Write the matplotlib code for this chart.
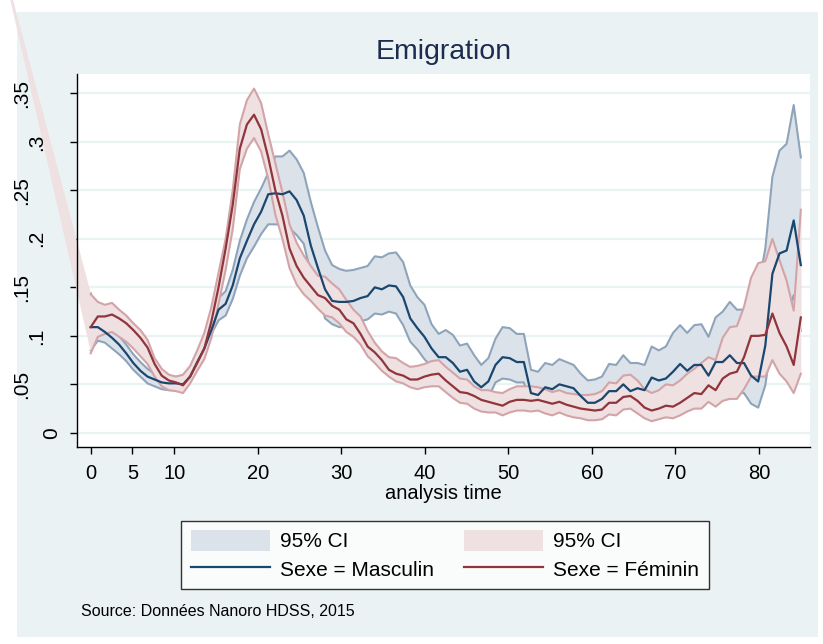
import numpy as np
import matplotlib
matplotlib.use('Agg')
import matplotlib.pyplot as plt
from matplotlib.patches import Rectangle, Patch
from matplotlib.lines import Line2D
import matplotlib.transforms as mtransforms

plt.rcParams['font.family'] = ['Liberation Sans', 'DejaVu Sans']

# smoothed hazard, evaluated on a grid of 101 points from 0 to 85
t = np.linspace(0, 85, 101)

masc = [0.109, 0.109, 0.104, 0.098, 0.091, 0.082, 0.072, 0.064, 0.058, 0.055,
        0.052, 0.051, 0.051, 0.050, 0.058, 0.073, 0.087, 0.106, 0.127, 0.133,
        0.152, 0.180, 0.198, 0.215, 0.228, 0.246, 0.247, 0.246, 0.249, 0.240,
        0.224, 0.193, 0.170, 0.148, 0.136, 0.135, 0.135, 0.136, 0.139, 0.141,
        0.150, 0.148, 0.152, 0.151, 0.140, 0.118, 0.108, 0.099, 0.087, 0.078,
        0.078, 0.072, 0.063, 0.065, 0.053, 0.047, 0.053, 0.070, 0.078, 0.077,
        0.073, 0.073, 0.041, 0.039, 0.047, 0.045, 0.050, 0.048, 0.046, 0.038,
        0.031, 0.031, 0.035, 0.043, 0.043, 0.050, 0.043, 0.046, 0.044, 0.057,
        0.054, 0.056, 0.063, 0.071, 0.064, 0.070, 0.070, 0.059, 0.073, 0.073,
        0.080, 0.072, 0.072, 0.059, 0.053, 0.090, 0.164, 0.185, 0.188, 0.219, 0.173]
masc_hi = [0.144, 0.115, 0.113, 0.107, 0.100, 0.091, 0.081, 0.073, 0.066, 0.061,
           0.058, 0.058, 0.058, 0.058, 0.066, 0.079, 0.090, 0.110, 0.139, 0.146,
           0.168, 0.198, 0.220, 0.238, 0.252, 0.268, 0.285, 0.285, 0.291, 0.282,
           0.268, 0.238, 0.212, 0.188, 0.173, 0.169, 0.167, 0.168, 0.170, 0.172,
           0.182, 0.181, 0.185, 0.186, 0.176, 0.152, 0.140, 0.132, 0.112, 0.102,
           0.106, 0.101, 0.090, 0.092, 0.080, 0.070, 0.077, 0.097, 0.109, 0.108,
           0.102, 0.102, 0.065, 0.063, 0.072, 0.070, 0.076, 0.073, 0.070, 0.061,
           0.054, 0.055, 0.058, 0.071, 0.070, 0.080, 0.072, 0.072, 0.070, 0.089,
           0.085, 0.089, 0.103, 0.111, 0.103, 0.111, 0.112, 0.099, 0.119, 0.125,
           0.135, 0.127, 0.127, 0.125, 0.150, 0.190, 0.264, 0.291, 0.298, 0.338, 0.284]
masc_lo = [0.085, 0.095, 0.093, 0.087, 0.081, 0.074, 0.065, 0.058, 0.051, 0.048,
           0.045, 0.044, 0.044, 0.045, 0.054, 0.068, 0.085, 0.102, 0.116, 0.121,
           0.138, 0.162, 0.180, 0.192, 0.205, 0.215, 0.215, 0.214, 0.211, 0.204,
           0.195, 0.165, 0.145, 0.118, 0.112, 0.109, 0.109, 0.112, 0.115, 0.117,
           0.123, 0.122, 0.125, 0.123, 0.111, 0.094, 0.086, 0.076, 0.068, 0.060,
           0.057, 0.051, 0.044, 0.046, 0.035, 0.032, 0.036, 0.052, 0.056, 0.055,
           0.052, 0.052, 0.026, 0.024, 0.031, 0.029, 0.033, 0.032, 0.030, 0.024,
           0.018, 0.017, 0.021, 0.026, 0.026, 0.031, 0.026, 0.029, 0.028, 0.037,
           0.034, 0.035, 0.039, 0.045, 0.040, 0.044, 0.044, 0.035, 0.045, 0.043,
           0.047, 0.041, 0.041, 0.030, 0.026, 0.049, 0.100, 0.118, 0.119, 0.142, 0.105]

fem = [0.109, 0.120, 0.120, 0.122, 0.118, 0.113, 0.106, 0.098, 0.088, 0.071,
       0.059, 0.054, 0.052, 0.049, 0.058, 0.072, 0.087, 0.115, 0.150, 0.190,
       0.235, 0.293, 0.318, 0.328, 0.313, 0.284, 0.250, 0.224, 0.190, 0.172,
       0.160, 0.151, 0.142, 0.139, 0.131, 0.127, 0.117, 0.113, 0.102, 0.089,
       0.083, 0.075, 0.065, 0.061, 0.059, 0.055, 0.055, 0.058, 0.060, 0.061,
       0.054, 0.048, 0.042, 0.041, 0.038, 0.034, 0.032, 0.030, 0.028, 0.032,
       0.034, 0.034, 0.033, 0.034, 0.032, 0.030, 0.032, 0.029, 0.027, 0.025,
       0.024, 0.023, 0.024, 0.031, 0.031, 0.037, 0.038, 0.033, 0.026, 0.023,
       0.025, 0.028, 0.027, 0.031, 0.036, 0.041, 0.040, 0.049, 0.044, 0.056,
       0.061, 0.063, 0.078, 0.100, 0.100, 0.101, 0.123, 0.103, 0.089, 0.070, 0.119]
fem_hi = [0.143, 0.135, 0.132, 0.134, 0.127, 0.121, 0.113, 0.106, 0.096, 0.077,
          0.066, 0.060, 0.058, 0.060, 0.069, 0.085, 0.103, 0.130, 0.165, 0.200,
          0.250, 0.318, 0.343, 0.355, 0.340, 0.308, 0.278, 0.248, 0.215, 0.196,
          0.183, 0.172, 0.162, 0.161, 0.154, 0.148, 0.137, 0.127, 0.120, 0.105,
          0.093, 0.084, 0.078, 0.077, 0.072, 0.068, 0.069, 0.071, 0.074, 0.075,
          0.068, 0.062, 0.056, 0.055, 0.048, 0.044, 0.044, 0.042, 0.041, 0.045,
          0.048, 0.048, 0.048, 0.047, 0.045, 0.042, 0.044, 0.041, 0.040, 0.039,
          0.039, 0.040, 0.043, 0.052, 0.051, 0.059, 0.060, 0.054, 0.045, 0.041,
          0.044, 0.050, 0.049, 0.054, 0.061, 0.066, 0.072, 0.078, 0.075, 0.098,
          0.109, 0.110, 0.130, 0.160, 0.175, 0.177, 0.200, 0.178, 0.157, 0.126, 0.230]
fem_lo = [0.082, 0.099, 0.102, 0.104, 0.099, 0.094, 0.087, 0.079, 0.071, 0.058,
          0.048, 0.044, 0.043, 0.041, 0.051, 0.064, 0.076, 0.098, 0.133, 0.168,
          0.210, 0.272, 0.293, 0.304, 0.290, 0.262, 0.225, 0.200, 0.170, 0.153,
          0.143, 0.136, 0.128, 0.121, 0.119, 0.113, 0.104, 0.099, 0.091, 0.079,
          0.072, 0.064, 0.058, 0.053, 0.051, 0.047, 0.045, 0.047, 0.048, 0.048,
          0.042, 0.036, 0.031, 0.030, 0.025, 0.022, 0.021, 0.021, 0.018, 0.021,
          0.023, 0.023, 0.022, 0.023, 0.020, 0.018, 0.021, 0.018, 0.016, 0.015,
          0.013, 0.013, 0.014, 0.019, 0.018, 0.024, 0.025, 0.020, 0.015, 0.012,
          0.014, 0.016, 0.015, 0.018, 0.022, 0.025, 0.025, 0.032, 0.027, 0.033,
          0.035, 0.035, 0.045, 0.058, 0.058, 0.058, 0.075, 0.061, 0.053, 0.041, 0.061]

# stray leading point of the female CI area (drawn outside the plot region)
fem_stray_t = -11.7
fem_stray_y = 0.523

xticks = [0, 5, 10, 20, 30, 40, 50, 60, 70, 80]
yticks = [0, 0.05, 0.1, 0.15, 0.2, 0.25, 0.3, 0.35]
ylabels = ['0', '.05', '.1', '.15', '.2', '.25', '.3', '.35']

navy = '#1a476f'
maroon = '#90353b'
navy_ci = '#dce2ea'
navy_ci_line = '#8ea4ba'
maroon_ci = '#efe0e1'
maroon_ci_line = '#d3a4a7'
bg = '#eaf2f3'

W, H = 823, 644
fig = plt.figure(figsize=(W / 100, H / 100), dpi=100)
fig.patch.set_facecolor('white')
fig.patches.append(Rectangle((17 / W, 1 - 637 / H), (818 - 17) / W, (637 - 12) / H,
                             transform=fig.transFigure, facecolor=bg,
                             edgecolor='none', zorder=-10))

ax = fig.add_axes([77 / W, 1 - 447 / H, (810 - 77) / W, (447 - 74) / H])
ax.set_xlim(-1.64, 86.1)
ax.set_ylim(-0.0146, 0.370)

# male CI
ax.fill_between(t, masc_lo, masc_hi, color=navy_ci, lw=0, zorder=2)
ax.plot(t, masc_hi, color=navy_ci_line, lw=1.5, zorder=2.1)
ax.plot(t, masc_lo, color=navy_ci_line, lw=1.5, zorder=2.1)

# female CI (the stray point makes the wedge outside the axes)
t_f = np.concatenate([[fem_stray_t], t])
ax.fill_between(t_f, [fem_stray_y] + fem_lo, [fem_stray_y] + fem_hi,
                color=maroon_ci, lw=0, zorder=3, clip_on=False)
ax.plot(t, fem_hi, color=maroon_ci_line, lw=1.5, zorder=3.1)
ax.plot(t, fem_lo, color=maroon_ci_line, lw=1.5, zorder=3.1)

ax.plot(t, masc, color=navy, lw=1.6, zorder=4)
ax.plot(t, fem, color=maroon, lw=1.6, zorder=4.1)

for s in ['top', 'right']:
    ax.spines[s].set_visible(False)
for s in ['left', 'bottom']:
    ax.spines[s].set_linewidth(1.0)
    ax.spines[s].set_color('black')
    ax.spines[s].set_zorder(5)

ax.set_yticks(yticks)
ax.set_yticklabels([''] * len(yticks))
ax.yaxis.grid(True, color=bg, lw=1.6)
ax.set_axisbelow(True)
ax.tick_params(axis='y', length=5, width=1, color='black')

ax.set_xticks(xticks)
ax.set_xticklabels([str(v) for v in xticks], fontsize=14.5)
ax.tick_params(axis='x', length=5, width=1, color='black', pad=7)
ax.set_xlabel('analysis time', fontsize=14.5, labelpad=1)

# rotated y labels, Stata-like placement
trans = mtransforms.blended_transform_factory(fig.transFigure, ax.transData)
for v, lab in zip(yticks, ylabels):
    xc = 67 - 15 * len(lab)
    fig.text(xc / W, v, lab, transform=trans, rotation=90, ha='center',
             va='center', fontsize=15)

fig.text(444 / W, 1 - 52 / H, 'Emigration', ha='center', va='center',
         fontsize=20.5, color='#1c2b4e')

handles = [Patch(facecolor=navy_ci, edgecolor='none'),
           Line2D([], [], color=navy, lw=1.6),
           Patch(facecolor=maroon_ci, edgecolor='none'),
           Line2D([], [], color=maroon, lw=1.6)]
labels = ['95% CI', 'Sexe = Masculin', '95% CI', 'Sexe = Féminin']
leg = fig.legend(handles, labels, ncol=2, loc='center',
                 bbox_to_anchor=(445 / W, 1 - 555 / H), fontsize=15,
                 frameon=True, fancybox=False, handlelength=3.8,
                 handleheight=1.15, handletextpad=0.5, columnspacing=1.4,
                 labelspacing=0.35, borderpad=0.45)
leg.get_frame().set_edgecolor('black')
leg.get_frame().set_linewidth(1.0)

fig.text(81 / W, 1 - 612 / H, 'Source: Données Nanoro HDSS, 2015',
         ha='left', va='center', fontsize=11.5)

fig.savefig('out.png', dpi=100)
